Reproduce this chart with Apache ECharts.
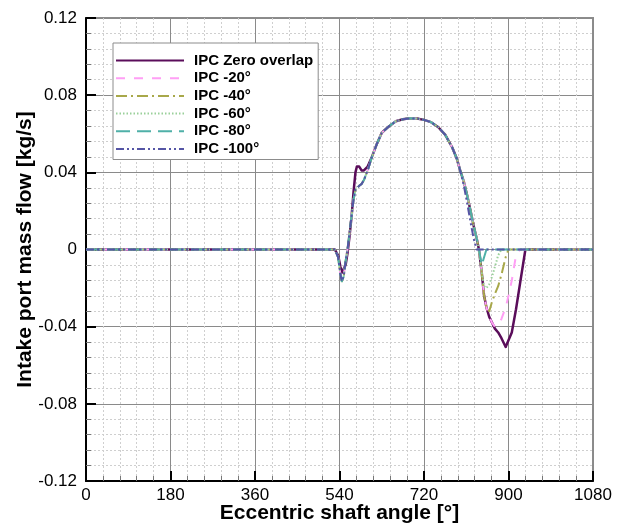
<!DOCTYPE html>
<html>
<head>
<meta charset="utf-8">
<script src="https://cdn.jsdelivr.net/npm/echarts@6/dist/echarts.min.js"></script>
<style>
html,body{margin:0;padding:0;background:#fff;overflow:hidden;}
#chart{width:625px;height:525px;}
</style>
</head>
<body>
<div id="chart"></div>
<script>
// Eccentric shaft angle [deg] sample points shared by all series
const angles = [0, 530, 537, 542, 545, 549, 553, 557, 561, 566, 570, 574, 577, 582, 587, 592, 600, 609, 620, 630, 645, 660, 675, 690, 705, 720, 735, 750, 765, 780, 790, 797, 805, 812, 820, 826, 832, 837, 843, 848, 853, 859, 865, 871, 878, 885, 894, 900, 907, 916, 925, 936, 1080];

const seriesNames = ['IPC Zero overlap', 'IPC -20°', 'IPC -40°', 'IPC -60°', 'IPC -80°', 'IPC -100°'];

const zeroOverlap = [0, 0, -0.003, -0.009, -0.012, -0.013, -0.008, -0.002, 0.006, 0.018, 0.030, 0.040, 0.043, 0.043, 0.041, 0.041, 0.043, 0.048, 0.055, 0.0605, 0.0638, 0.0665, 0.0675, 0.068, 0.0679, 0.0672, 0.066, 0.0635, 0.0595, 0.053, 0.047, 0.041, 0.035, 0.028, 0.019, 0.012, 0.006, 0, -0.012, -0.024, -0.030, -0.035, -0.038, -0.041, -0.043, -0.046, -0.0505, -0.047, -0.043, -0.031, -0.017, 0, 0];
const ipc20 = [0, 0, -0.004, -0.013, -0.0165, -0.014, -0.006, 0, 0.008, 0.018, 0.026, 0.031, 0.032, 0.033, 0.034, 0.036, 0.041, 0.048, 0.055, 0.0605, 0.0638, 0.0665, 0.0675, 0.068, 0.0679, 0.0672, 0.066, 0.0635, 0.0595, 0.053, 0.047, 0.041, 0.035, 0.028, 0.019, 0.012, 0.006, 0, -0.012, -0.024, -0.030, -0.035, -0.038, -0.040, -0.039, -0.036, -0.030, -0.024, -0.016, -0.003, 0, 0, 0];
const ipc40 = [0, 0, -0.004, -0.013, -0.0165, -0.014, -0.006, 0, 0.008, 0.018, 0.026, 0.031, 0.032, 0.033, 0.034, 0.036, 0.041, 0.048, 0.055, 0.0605, 0.0638, 0.0665, 0.0675, 0.068, 0.0679, 0.0672, 0.066, 0.0635, 0.0595, 0.053, 0.047, 0.041, 0.035, 0.028, 0.019, 0.012, 0.006, 0, -0.012, -0.024, -0.030, -0.032, -0.027, -0.023, -0.019, -0.013, -0.004, 0, 0, 0, 0, 0, 0];
const ipc60 = [0, 0, -0.004, -0.013, -0.0165, -0.014, -0.006, 0, 0.008, 0.018, 0.026, 0.031, 0.032, 0.033, 0.034, 0.036, 0.041, 0.048, 0.055, 0.0605, 0.0638, 0.0665, 0.0675, 0.068, 0.0679, 0.0672, 0.066, 0.0635, 0.0595, 0.053, 0.047, 0.041, 0.035, 0.028, 0.019, 0.012, 0.006, 0, -0.012, -0.019, -0.020, -0.018, -0.014, -0.009, -0.003, 0, 0, 0, 0, 0, 0, 0, 0];
const ipc80 = [0, 0, -0.004, -0.013, -0.0165, -0.014, -0.006, 0, 0.008, 0.018, 0.026, 0.031, 0.032, 0.033, 0.034, 0.036, 0.041, 0.048, 0.055, 0.0605, 0.0638, 0.0665, 0.0675, 0.068, 0.0679, 0.0672, 0.066, 0.0635, 0.0595, 0.053, 0.047, 0.041, 0.035, 0.028, 0.019, 0.012, 0.006, 0, -0.008, -0.004, 0, 0, 0, 0, 0, 0, 0, 0, 0, 0, 0, 0, 0];
const ipc100 = [0, 0, -0.004, -0.013, -0.0165, -0.014, -0.006, 0, 0.008, 0.018, 0.026, 0.031, 0.032, 0.033, 0.034, 0.036, 0.041, 0.048, 0.055, 0.0605, 0.0638, 0.0665, 0.0675, 0.068, 0.0679, 0.0672, 0.066, 0.0635, 0.0595, 0.053, 0.047, 0.041, 0.033, 0.024, 0.013, 0.0055, 0, 0, 0, 0, 0, 0, 0, 0, 0, 0, 0, 0, 0, 0, 0, 0, 0];

const xTicks = [0, 180, 360, 540, 720, 900, 1080];
const yTicks = [-0.12, -0.08, -0.04, 0, 0.04, 0.08, 0.12];

const seriesValues = [zeroOverlap, ipc20, ipc40, ipc60, ipc80, ipc100];
const colors = ['#5a0d5a', '#ff9ff5', '#a8a84a', '#9ad09a', '#4fb0a8', '#5555a5'];
const dashes = ['solid', [9, 9], [11, 4, 2, 4], [1.5, 2], [14, 7], [8, 3, 2, 3, 2, 3]];
const widths = [2.5, 2, 2, 2, 2, 2];

const chart = echarts.init(document.getElementById('chart'), null, {renderer: 'canvas', width: 625, height: 525});
const FONT = 'Liberation Sans, Arial, sans-serif';

const option = {
  backgroundColor: '#fff',
  animation: false,
  color: colors,
  grid: {left: 86, top: 18, width: 507, height: 463, containLabel: false, outerBoundsMode: 'none',
         show: true, borderColor: '#8c8c8c', borderWidth: 2, backgroundColor: 'transparent'},
  legend: {
    orient: 'vertical', left: 113, top: 43,
    padding: [9, 5, 2, 2],
    backgroundColor: '#fff', borderColor: '#8c8c8c', borderWidth: 1,
    itemWidth: 68, itemHeight: 14, itemGap: 0.7,
    itemStyle: {opacity: 0},
    textStyle: {fontFamily: FONT, fontWeight: 'bold', fontSize: 15, color: '#000', lineHeight: 17, padding: [0, 0, 0, 5]},
    data: seriesNames
  },
  xAxis: {
    type: 'value', min: xTicks[0], max: xTicks[xTicks.length - 1], interval: 180,
    name: 'Eccentric shaft angle [°]', nameLocation: 'middle', nameGap: 22, nameMoveOverlap: false,
    nameTextStyle: {fontFamily: FONT, fontWeight: 'bold', fontSize: 21, color: '#000'},
    axisLine: {show: true, onZero: false, lineStyle: {color: '#000', width: 2}},
    axisTick: {show: true, inside: true, length: 10, lineStyle: {color: '#000', width: 2}},
    minorTick: {show: true, splitNumber: 5, length: 5, lineStyle: {color: '#777', width: 1}},
    axisLabel: {fontFamily: FONT, fontSize: 17, color: '#000', margin: 6, formatter: v => String(v)},
    splitLine: {show: true, lineStyle: {color: '#8a8a8a', width: 1}},
    minorSplitLine: {show: true, lineStyle: {color: '#cfcfcf', width: 1, type: [2, 2]}}
  },
  yAxis: {
    type: 'value', min: yTicks[0], max: yTicks[yTicks.length - 1], interval: 0.04,
    name: 'Intake port mass flow [kg/s]', nameLocation: 'middle', nameGap: 50, nameRotate: 90, nameMoveOverlap: false,
    nameTextStyle: {fontFamily: FONT, fontWeight: 'bold', fontSize: 21, color: '#000'},
    axisLine: {show: true, onZero: false, lineStyle: {color: '#000', width: 2}},
    axisTick: {show: true, inside: true, length: 10, lineStyle: {color: '#000', width: 2}},
    minorTick: {show: true, splitNumber: 5, length: 5, lineStyle: {color: '#777', width: 1}},
    axisLabel: {fontFamily: FONT, fontSize: 17, color: '#000', margin: 9,
      formatter: v => { const r = Math.round(v * 100) / 100; return r === 0 ? '0' : String(r); }},
    splitLine: {show: true, lineStyle: {color: '#8a8a8a', width: 1}},
    minorSplitLine: {show: true, lineStyle: {color: '#cfcfcf', width: 1, type: [2, 2]}}
  },
  series: seriesNames.map((name, i) => ({
    name: name,
    type: 'line',
    showSymbol: false,
    symbol: 'none',
    smooth: false,
    data: angles.map((a, j) => [a, seriesValues[i][j]]),
    lineStyle: {color: colors[i], width: widths[i], type: dashes[i], join: 'round', cap: 'butt'},
    itemStyle: {color: colors[i]},
    z: 2 + i
  }))
};
chart.setOption(option);
</script>
</body>
</html>
